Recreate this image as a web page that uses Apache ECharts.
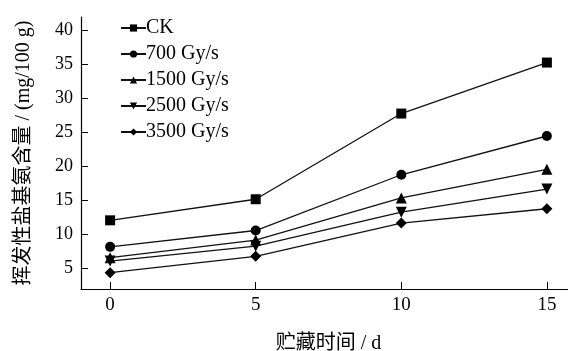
<!DOCTYPE html>
<html><head><meta charset="utf-8">
<script src="https://cdn.jsdelivr.net/npm/echarts@6/dist/echarts.min.js"></script>
<style>html,body{margin:0;padding:0;background:#fff}#c{width:568px;height:351px}</style>
</head><body><div id="c"></div>
<script>
const days = [0, 5, 10, 15];
const seriesNames = ['CK', '700 Gy/s', '1500 Gy/s', '2500 Gy/s', '3500 Gy/s'];
const ck = [12.1, 15.2, 27.8, 35.3];
const g700 = [8.2, 10.6, 18.8, 24.5];
const g1500 = [6.6, 9.2, 15.4, 19.6];
const g2500 = [6.1, 8.3, 13.3, 16.7];
const g3500 = [4.4, 6.8, 11.7, 13.8];
const xTicks = [0, 5, 10, 15];
const yTicks = [5, 10, 15, 20, 25, 30, 35, 40];

const values = [ck, g700, g1500, g2500, g3500];
const symbols = ['rect', 'circle', 'triangle', 'path://M0,0 L10,0 L5,9 Z', 'diamond'];
const sizes = [10, 10, 11, 11, 11];
const font = '"Liberation Serif", "Noto Sans CJK SC", serif';

const chart = echarts.init(document.getElementById('c'), null, {renderer: 'canvas'});
chart.setOption({
  animation: false,
  backgroundColor: '#fff',
  textStyle: {fontFamily: font, color: '#000'},
  grid: {left: 81, top: 17, width: 495, height: 272, containLabel: false, outerBoundsMode: 'none'},
  legend: {
    orient: 'vertical', left: 115, top: 13, itemGap: 6,
    itemWidth: 25, itemHeight: 9,
    textStyle: {fontFamily: font, fontSize: 20, color: '#000', padding: [0,0,0,-5]},
    data: seriesNames
  },
  xAxis: {
    type: 'value', min: -1, max: 16,
    name: '贮藏时间 / d', nameLocation: 'middle', nameGap: 45,
    nameTextStyle: {fontFamily: font, fontSize: 20, color: '#000'},
    axisLine: {show: true, onZero: false, lineStyle: {color: '#000', width: 1.2}},
    axisTick: {show: true, inside: true, length: 7, customValues: xTicks, lineStyle: {color: '#000'}},
    axisLabel: {customValues: xTicks, fontFamily: font, fontSize: 19, color: '#000', margin: 7},
    splitLine: {show: false}
  },
  yAxis: {
    type: 'value', min: 2, max: 42,
    name: '挥发性盐基氨含量 / (mg/100 g)', nameLocation: 'middle', nameGap: 47,
    nameTextStyle: {fontFamily: font, fontSize: 20, color: '#000'},
    axisLine: {show: true, onZero: false, lineStyle: {color: '#000', width: 1.2}},
    axisTick: {show: true, inside: true, length: 7, customValues: yTicks, lineStyle: {color: '#000'}},
    axisLabel: {customValues: yTicks, fontFamily: font, fontSize: 18, color: '#000', margin: 8},
    splitLine: {show: false}
  },
  series: seriesNames.map((n, i) => ({
    name: n, type: 'line',
    data: days.map((d, j) => [d, values[i][j]]),
    symbol: symbols[i], symbolSize: sizes[i],
    itemStyle: {color: '#000'},
    lineStyle: {color: '#111', width: 1.3}
  }))
});
</script></body></html>
